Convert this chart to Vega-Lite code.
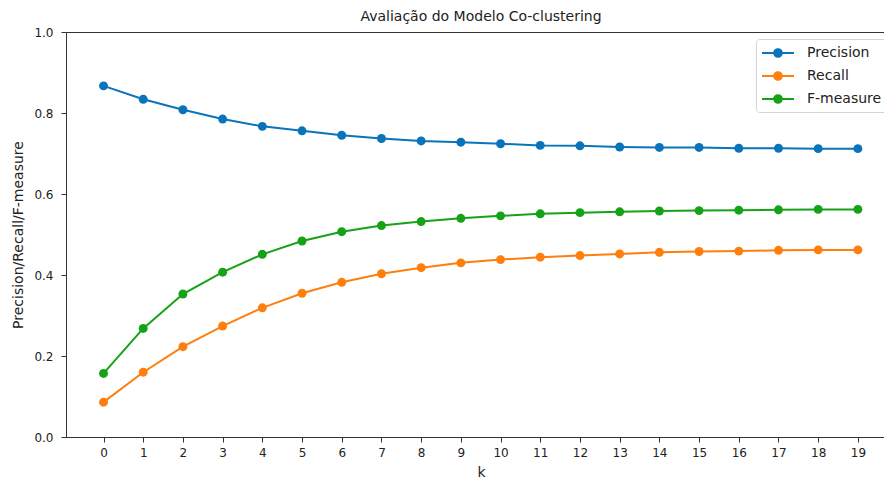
{
  "$schema": "https://vega.github.io/schema/vega-lite/v6.json",
  "width": 830,
  "height": 405,
  "autosize": {"type": "none"},
  "padding": {"left": 66, "top": 32, "right": 0, "bottom": 47},
  "background": "white",
  "title": {
    "text": "Avaliação do Modelo Co-clustering",
    "font": "DejaVu Sans",
    "fontSize": 14,
    "fontWeight": "normal",
    "color": "#222222",
    "anchor": "middle",
    "offset": 2
  },
  "config": {
    "font": "DejaVu Sans",
    "view": {"stroke": "#333333", "strokeWidth": 1},
    "axis": {
      "grid": false,
      "domainColor": "#333333",
      "domainWidth": 1,
      "tickColor": "#333333",
      "tickSize": 5,
      "labelFont": "DejaVu Sans",
      "labelFontSize": 12,
      "labelColor": "#222222",
      "titleFont": "DejaVu Sans",
      "titleFontSize": 14,
      "titleFontWeight": "normal",
      "titleColor": "#222222"
    }
  },
  "data": {
    "values": [
      {"k": 0, "metric": "Precision", "value": 0.867},
      {"k": 1, "metric": "Precision", "value": 0.834},
      {"k": 2, "metric": "Precision", "value": 0.808},
      {"k": 3, "metric": "Precision", "value": 0.785},
      {"k": 4, "metric": "Precision", "value": 0.767},
      {"k": 5, "metric": "Precision", "value": 0.756},
      {"k": 6, "metric": "Precision", "value": 0.745},
      {"k": 7, "metric": "Precision", "value": 0.737},
      {"k": 8, "metric": "Precision", "value": 0.731},
      {"k": 9, "metric": "Precision", "value": 0.728},
      {"k": 10, "metric": "Precision", "value": 0.724},
      {"k": 11, "metric": "Precision", "value": 0.720},
      {"k": 12, "metric": "Precision", "value": 0.719},
      {"k": 13, "metric": "Precision", "value": 0.716},
      {"k": 14, "metric": "Precision", "value": 0.715},
      {"k": 15, "metric": "Precision", "value": 0.715},
      {"k": 16, "metric": "Precision", "value": 0.713},
      {"k": 17, "metric": "Precision", "value": 0.713},
      {"k": 18, "metric": "Precision", "value": 0.712},
      {"k": 19, "metric": "Precision", "value": 0.712},
      {"k": 0, "metric": "Recall", "value": 0.086},
      {"k": 1, "metric": "Recall", "value": 0.160},
      {"k": 2, "metric": "Recall", "value": 0.223},
      {"k": 3, "metric": "Recall", "value": 0.274},
      {"k": 4, "metric": "Recall", "value": 0.319},
      {"k": 5, "metric": "Recall", "value": 0.355},
      {"k": 6, "metric": "Recall", "value": 0.382},
      {"k": 7, "metric": "Recall", "value": 0.403},
      {"k": 8, "metric": "Recall", "value": 0.418},
      {"k": 9, "metric": "Recall", "value": 0.430},
      {"k": 10, "metric": "Recall", "value": 0.438},
      {"k": 11, "metric": "Recall", "value": 0.444},
      {"k": 12, "metric": "Recall", "value": 0.448},
      {"k": 13, "metric": "Recall", "value": 0.452},
      {"k": 14, "metric": "Recall", "value": 0.456},
      {"k": 15, "metric": "Recall", "value": 0.458},
      {"k": 16, "metric": "Recall", "value": 0.459},
      {"k": 17, "metric": "Recall", "value": 0.461},
      {"k": 18, "metric": "Recall", "value": 0.462},
      {"k": 19, "metric": "Recall", "value": 0.462},
      {"k": 0, "metric": "F-measure", "value": 0.157},
      {"k": 1, "metric": "F-measure", "value": 0.268},
      {"k": 2, "metric": "F-measure", "value": 0.353},
      {"k": 3, "metric": "F-measure", "value": 0.407},
      {"k": 4, "metric": "F-measure", "value": 0.451},
      {"k": 5, "metric": "F-measure", "value": 0.484},
      {"k": 6, "metric": "F-measure", "value": 0.507},
      {"k": 7, "metric": "F-measure", "value": 0.522},
      {"k": 8, "metric": "F-measure", "value": 0.532},
      {"k": 9, "metric": "F-measure", "value": 0.540},
      {"k": 10, "metric": "F-measure", "value": 0.546},
      {"k": 11, "metric": "F-measure", "value": 0.551},
      {"k": 12, "metric": "F-measure", "value": 0.554},
      {"k": 13, "metric": "F-measure", "value": 0.556},
      {"k": 14, "metric": "F-measure", "value": 0.558},
      {"k": 15, "metric": "F-measure", "value": 0.559},
      {"k": 16, "metric": "F-measure", "value": 0.560},
      {"k": 17, "metric": "F-measure", "value": 0.561},
      {"k": 18, "metric": "F-measure", "value": 0.562},
      {"k": 19, "metric": "F-measure", "value": 0.562}
    ]
  },
  "mark": {
    "type": "line",
    "strokeWidth": 2,
    "point": {"filled": true, "size": 80, "opacity": 1}
  },
  "encoding": {
    "x": {
      "field": "k",
      "type": "quantitative",
      "scale": {"domain": [-0.945, 19.96], "nice": false, "zero": false},
      "axis": {
        "title": "k",
        "values": [0, 1, 2, 3, 4, 5, 6, 7, 8, 9, 10, 11, 12, 13, 14, 15, 16, 17, 18, 19],
        "format": "d",
        "labelPadding": 5,
        "titlePadding": 7,
        "labelFlush": false
      }
    },
    "y": {
      "field": "value",
      "type": "quantitative",
      "scale": {"domain": [0, 1], "nice": false},
      "axis": {
        "title": "Precision/Recall/F-measure",
        "values": [0, 0.2, 0.4, 0.6, 0.8, 1.0],
        "format": ".1f",
        "labelPadding": 8,
        "titlePadding": 8,
        "labelFlush": false
      }
    },
    "color": {
      "field": "metric",
      "type": "nominal",
      "sort": ["Precision", "Recall", "F-measure"],
      "scale": {
        "domain": ["Precision", "Recall", "F-measure"],
        "range": ["#0a74bb", "#ff7f0e", "#16a216"]
      },
      "legend": {
        "title": null,
        "orient": "none",
        "legendX": 690,
        "legendY": 7,
        "padding": 5,
        "fillColor": "rgba(255,255,255,0.85)",
        "strokeColor": "#d4d4d4",
        "cornerRadius": 3,
        "symbolType": "M-1,0H3M1.48,0A0.48,0.48,0,1,1,0.52,0A0.48,0.48,0,1,1,1.48,0Z",
        "symbolSize": 256,
        "symbolStrokeWidth": 2,
        "symbolOpacity": 1,
        "labelFont": "DejaVu Sans",
        "labelFontSize": 14,
        "labelColor": "#222222",
        "labelOffset": 28,
        "rowPadding": 6,
        "encode": {
          "symbols": {
            "update": {
              "fill": {"scale": "color", "field": "value"},
              "stroke": {"scale": "color", "field": "value"}
            }
          }
        }
      }
    }
  }
}
